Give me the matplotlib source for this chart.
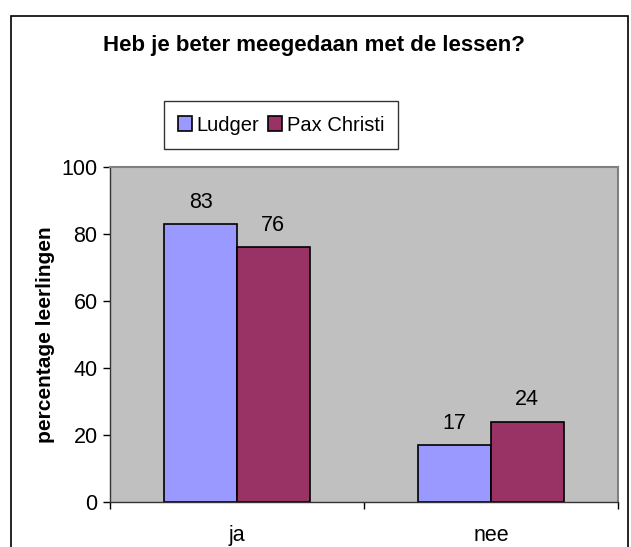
import numpy as np
import matplotlib.pyplot as plt
from matplotlib.patches import Rectangle

plt.rcParams['font.family'] = ['Liberation Sans', 'DejaVu Sans']

# data
categories = ['ja', 'nee']
ludger = [83, 17]
pax = [76, 24]
series_names = ['Ludger', 'Pax Christi']

fig = plt.figure(figsize=(6.31, 5.47), dpi=100)
W, H = 631, 547
# outer chart border
fig.patches.append(Rectangle((11 / W, -0.05), 617 / W, 1 - 16 / H + 0.05,
                             transform=fig.transFigure, fill=False,
                             edgecolor='black', linewidth=1.2))

ax = fig.add_axes([110 / W, 1 - 502 / H, 508 / W, 335 / H])
ax.set_facecolor('#C0C0C0')

x = np.arange(len(categories))
w = 1 / 3.5
b1 = ax.bar(x - w / 2, ludger, w, color='#9999FF', edgecolor='black', linewidth=1.2, label=series_names[0])
b2 = ax.bar(x + w / 2, pax, w, color='#993366', edgecolor='black', linewidth=1.2, label=series_names[1])

for bars, vals in ((b1, ludger), (b2, pax)):
    for r, v in zip(bars, vals):
        ax.annotate(str(v), (r.get_x() + r.get_width() / 2, v), xytext=(0, 8),
                    textcoords='offset points', ha='center', va='bottom', fontsize=15.5)

ax.set_xlim(-0.5, 1.5)
ax.set_ylim(0, 100)
ax.set_yticks(range(0, 101, 20))
ax.tick_params(axis='y', labelsize=15.5, length=5, width=1, direction='out', pad=4)
ax.set_xticks([-0.5, 0.5, 1.5])
ax.set_xticklabels([])
ax.tick_params(axis='x', length=5, width=1, direction='out')
for i, c in enumerate(categories):
    ax.text(i, -0.07, c, transform=ax.get_xaxis_transform(), ha='center', va='top', fontsize=15.5)

for s in ('top', 'right'):
    ax.spines[s].set_color('#808080')
    ax.spines[s].set_linewidth(1.5)
for s in ('left', 'bottom'):
    ax.spines[s].set_color('#333333')
    ax.spines[s].set_linewidth(1)

ax.set_ylabel('percentage leerlingen', fontsize=15, fontweight='bold')
ax.yaxis.set_label_coords(-55 / 508, 0.5)

fig.text(314 / W, 1 - 45 / H, 'Heb je beter meegedaan met de lessen?', ha='center', va='center',
         fontsize=16, fontweight='bold')

leg = fig.legend(loc='center', bbox_to_anchor=(281 / W, 1 - 125 / H), ncol=2, fontsize=14.5,
                 frameon=True, fancybox=False, handlelength=0.7, handleheight=0.7,
                 handletextpad=0.25, columnspacing=0.4, borderpad=0.7, borderaxespad=0)
leg.get_frame().set_edgecolor('black')
leg.get_frame().set_linewidth(1)

fig.savefig('out.png', dpi=100)
